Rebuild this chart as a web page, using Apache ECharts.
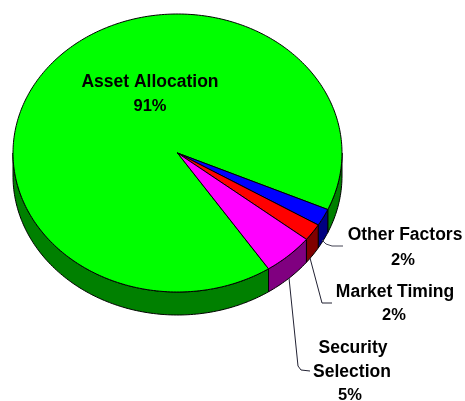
<!DOCTYPE html>
<html><head><meta charset="utf-8">
<style>html,body{margin:0;padding:0;background:#fff}#c{width:465px;height:401px;filter:blur(0.5px)}</style>
<script src="https://cdn.jsdelivr.net/npm/echarts@6/dist/echarts.min.js"></script>
</head><body><div id="c"></div>
<script>
const categories = ['Asset Allocation','Other Factors','Market Timing','Security Selection'];
const shares = [91, 2, 2, 5];
const topColors = ['#00ff00','#0000ff','#ff0000','#ff00ff'];
const wallColors = ['#008000','#000080','#800000','#800080'];

const CX=177.5, CY=153, RX=164.5, RY=139, DEPTH=23, STEP=1;
const START=56.4; // clockwise screen angle of the first slice's start
const total = shares.reduce((a,b)=>a+b,0);
const pt=(deg,dy=0)=>[CX+RX*Math.cos(deg*Math.PI/180), CY+dy+RY*Math.sin(deg*Math.PI/180)];
function range(i){
  let a=START; for(let k=0;k<i;k++) a+=shares[k]/total*360;
  return [a,a+shares[i]/total*360];
}
function arc(a,b,dy){const o=[];for(let t=a;t<b;t+=STEP)o.push(pt(t,dy));o.push(pt(b,dy));return o;}
function wallParts(a,b){
  const parts=[];
  [[0,180],[360,540]].forEach(([lo,hi])=>{
    const s=Math.max(a,lo), e=Math.min(b,hi);
    if(e>s) parts.push([s,e]);
  });
  return parts;
}
const line={stroke:'#000',lineWidth:1,lineJoin:'round'};
const wallSeries={type:'custom',coordinateSystem:'none',silent:true,z:2,
  data:shares.map((v,i)=>[i,v]),
  renderItem(p,api){
    const i=api.value(0), [a,b]=range(i);
    return {type:'group',children:wallParts(a,b).map(([s,e])=>({
      type:'polygon',
      shape:{points:arc(s,e,0).concat(arc(s,e,DEPTH).reverse())},
      style:Object.assign({fill:wallColors[i]},line)
    }))};
  }};
const topSeries={type:'custom',coordinateSystem:'none',silent:true,z:3,
  data:shares.map((v,i)=>[i,v]),
  renderItem(p,api){
    const i=api.value(0), [a,b]=range(i);
    return {type:'polygon',shape:{points:[[CX,CY]].concat(arc(a,b,0))},
      style:Object.assign({fill:topColors[i]},line)};
  }};

const font=size=>({fontFamily:'"Liberation Sans"',fontWeight:'bold',fontSize:size});
const txt=(s,x,y,size=17.5)=>({type:'text',z:10,silent:true,x,y,
  style:Object.assign({text:s,fill:'#000',align:'center',verticalAlign:'middle'},font(size))});
const lead=(pts,color)=>({type:'polyline',z:9,silent:true,shape:{points:pts},
  style:{stroke:color,lineWidth:1,fill:null}});
const pct=i=>shares[i]+'%';
const [secA,secB]=categories[3].split(' ');
const graphic=[
  txt(categories[0],150,82), txt(pct(0),150,106,16.5),
  txt(categories[1],405,235), txt(pct(1),403,260,16.5),
  txt(categories[2],395,292), txt(pct(2),394,315,16.5),
  txt(secA,353,348), txt(secB,352,372), txt(pct(3),350,395,16.5),
  lead([[322,240],[326,244],[332,246],[343,246]],'#445'),
  lead([[310,258],[322,303],[332,303]],'#223'),
  lead([[289,278],[298,366],[301,370],[310,371]],'#223')
];
const chart=echarts.init(document.getElementById('c'),null,{renderer:'canvas'});
chart.setOption({animation:false,backgroundColor:'#fff',series:[wallSeries,topSeries],graphic});
</script></body></html>
